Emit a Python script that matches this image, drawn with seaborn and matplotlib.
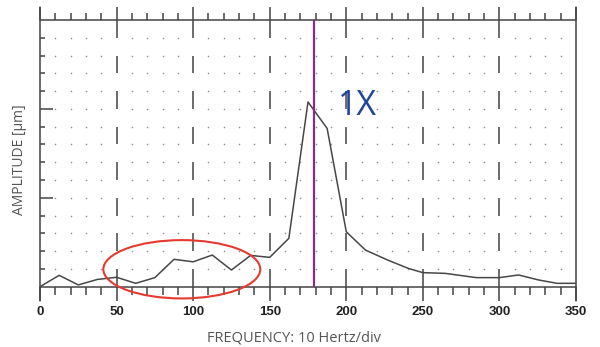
import numpy as np
import pandas as pd
import matplotlib
matplotlib.use("Agg")
import matplotlib.pyplot as plt
from matplotlib.patches import Ellipse
import seaborn as sns

# ---- data ----
freq = [0, 12.5, 25, 37.5, 50, 62.5, 75, 87.5, 100, 112.5, 125, 137.5, 150,
        162.5, 175, 187.5, 200, 212.5, 227, 240.5, 250, 264.5, 285, 300,
        312.5, 325.5, 337.5, 350]
amp = [0, 0.64, 0.1, 0.41, 0.53, 0.19, 0.51, 1.54, 1.40, 1.78, 0.94, 1.76,
       1.65, 2.72, 10.39, 8.9, 3.09, 2.06, 1.5, 1.03, 0.79, 0.75, 0.51, 0.51,
       0.66, 0.38, 0.19, 0.19]
x_major = [0, 50, 100, 150, 200, 250, 300, 350]
x_labels = ["0", "50", "100", "150", "200", "250", "300", "350"]
x_minor = [v for v in range(0, 351, 10) if v % 50 != 0]
y_rows = list(range(1, 15))
marker_1x = 179.2
x_title = "FREQUENCY: 10 Hertz/div"
y_title = "AMPLITUDE [\u00b5m]"

sns.set_style("white")
plt.rcParams["font.family"] = ["Open Sans", "DejaVu Sans"]

fig = plt.figure(figsize=(6, 3.47), dpi=100)
ax = fig.add_axes([40 / 600, (347 - 286.7) / 347, 536 / 600, 266.7 / 347])
ax.set_xlim(0, 350)
ax.set_ylim(0, 15)
for s in ax.spines.values():
    s.set_visible(False)

axc = "#444444"
lw_ax = 1.1

# dotted grid
gx, gy = np.meshgrid(x_minor, y_rows)
ax.scatter(gx.ravel(), gy.ravel(), s=1.3, color="#8f8f8f", linewidths=0, zorder=1)

# dashed major verticals (1 unit on, 1 unit off)
inner = x_major[1:-1]
for y0 in range(0, 15, 2):
    ax.vlines(inner, y0, y0 + 1, color=axc, lw=1.1, zorder=2)

# frame
ax.plot([0, 350], [15, 15], color=axc, lw=lw_ax, clip_on=False, zorder=3)
ax.plot([0, 350], [0, 0], color=axc, lw=lw_ax, clip_on=False, zorder=3)
ax.plot([0, 0], [-0.8, 15.73], color=axc, lw=lw_ax, clip_on=False, zorder=3)
ax.plot([350, 350], [-0.8, 15.73], color=axc, lw=lw_ax, clip_on=False, zorder=3)

# top ticks
ax.vlines(x_minor, 15, 15.38, color=axc, lw=1.1, clip_on=False)
ax.vlines(x_major, 15, 15.73, color=axc, lw=1.1, clip_on=False)
# bottom ticks
ax.vlines(x_minor, -0.47, 0, color=axc, lw=1.1, clip_on=False)
ax.vlines(x_major, -0.8, 0, color=axc, lw=1.1, clip_on=False)
# left ticks
short_rows = [r for r in y_rows if r not in (5, 10)]
ax.hlines(short_rows, 0, 3.3, color=axc, lw=1.1)
ax.hlines([5, 10], 0, 8.5, color=axc, lw=1.1)

# data
df = pd.DataFrame({"freq": freq, "amp": amp})
sns.lineplot(data=df, x="freq", y="amp", ax=ax, color="#474747", lw=1.1,
             estimator=None, sort=False, zorder=4)

# 1X marker
ax.vlines([marker_1x], 0, 15, color="#8a2a8e", lw=1.6, zorder=5)
ax.text(207.4, 9.65, "1X", color="#21479a", fontsize=24.5, ha="center",
        va="baseline", family=["Open Sans", "DejaVu Sans"], zorder=6)

# red ellipse
ax.add_patch(Ellipse((92.6, 0.98), 102.5, 3.28, fill=False, edgecolor="#e53a2f",
                     lw=1.5, clip_on=False, zorder=6))

# ticks/labels
ax.set_xticks(x_major)
ax.set_xticklabels(x_labels, fontsize=9.5, fontweight="bold",
                   family=["Liberation Sans", "DejaVu Sans"], color="#222222")
ax.tick_params(axis="x", length=0, pad=14)
ax.set_yticks([])

ax.set_xlabel(x_title, fontsize=10.5, color="#555555", va="center", ha="center")
ax.xaxis.set_label_coords((294 - 40) / 536, (286.7 - 338) / 266.7)
ax.set_ylabel(y_title, fontsize=10, color="#555555", va="center", ha="center")
ax.yaxis.set_label_coords((20 - 40) / 536, (286.7 - 160) / 266.7)

fig.savefig("out.png", dpi=100)
